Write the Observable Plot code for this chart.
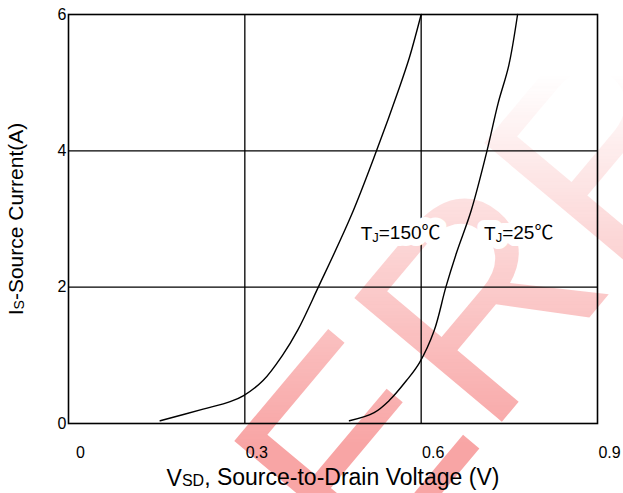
<!DOCTYPE html>
<html>
<head>
<meta charset="utf-8">
<script src="https://cdn.jsdelivr.net/npm/d3@7"></script>
<script src="https://cdn.jsdelivr.net/npm/@observablehq/plot@0.6"></script>
<style>
  html, body { margin: 0; padding: 0; background: white; }
  #wrap { position: relative; width: 623px; height: 493px; overflow: hidden; }
  #wmbox { position: absolute; left: 0; top: 0; width: 623px; height: 493px; overflow: hidden; z-index: 0;
           -webkit-mask-image: linear-gradient(to bottom, rgba(0,0,0,0) 15%, rgba(0,0,0,1) 90%);
           mask-image: linear-gradient(to bottom, rgba(0,0,0,0) 15%, rgba(0,0,0,1) 90%); }
  #wm { position: absolute; left: 400px; top: 330px; font-family: "Liberation Sans", Arial, sans-serif;
        font-size: 280px; line-height: 1; color: rgba(238, 30, 30, 0.4); white-space: nowrap;
        transform-origin: 0 100%; transform: rotate(-50deg); }
  #chart { position: absolute; left: 0; top: 0; z-index: 1; }
</style>
</head>
<body>
<div id="wrap"><div id="wmbox"><div id="wm">ERR</div></div><div id="chart"></div></div>
<script>
// Tj = 150 °C curve
const v150 = [0.156, 0.229, 0.275, 0.298, 0.331, 0.364, 0.390, 0.425, 0.481, 0.524, 0.563, 0.580, 0.592, 0.600];
const i150 = [0.04, 0.21, 0.32, 0.41, 0.63, 1.00, 1.37, 2.00, 3.05, 4.00, 4.93, 5.37, 5.74, 6.00];
// Tj = 25 °C curve
const v25 = [0.478, 0.520, 0.546, 0.575, 0.597, 0.622, 0.642, 0.660, 0.685, 0.712, 0.731, 0.749, 0.764];
const i25 = [0.04, 0.16, 0.34, 0.63, 0.89, 1.36, 2.00, 2.50, 3.12, 4.00, 4.70, 5.25, 6.00];

const xTicks = [0, 0.3, 0.6, 0.9];
const yTicks = [0, 2, 4, 6];
const xGrid = [0.3, 0.6];
const yGrid = [2, 4];

const labelText = ["TJ=150℃", "TJ=25℃"];
const labelV = [0.565, 0.766];
const labelI = [2.78, 2.78];

const s150 = v150.map((v, k) => ({v, i: i150[k]}));
const s25 = v25.map((v, k) => ({v, i: i25[k]}));
const labels = labelText.map((t, k) => ({t, v: labelV[k], i: labelI[k]}));

const chart = Plot.plot({
  width: 623,
  height: 493,
  marginLeft: 68,
  marginRight: 26,
  marginTop: 14,
  marginBottom: 70,
  style: {background: "transparent", fontFamily: "'Liberation Sans', Arial, 'Noto Sans CJK SC', sans-serif", color: "black"},
  x: {domain: [0, 0.9]},
  y: {domain: [0, 6]},
  marks: [
    Plot.ruleX(xGrid, {stroke: "black", strokeWidth: 1.3}),
    Plot.ruleY(yGrid, {stroke: "black", strokeWidth: 1.3}),
    Plot.line(s150, {x: "v", y: "i", stroke: "black", strokeWidth: 1.4, curve: "catmull-rom"}),
    Plot.line(s25, {x: "v", y: "i", stroke: "black", strokeWidth: 1.4, curve: "catmull-rom"}),
    // white backing behind the labels
    Plot.text(labels, {x: "v", y: "i", text: "t", fontSize: 19, fill: "white", stroke: "white", strokeWidth: 14, className: "tlabel"}),
    Plot.text(labels, {x: "v", y: "i", text: "t", fontSize: 19, fill: "black", className: "tlabel"}),
    Plot.frame({stroke: "black", strokeWidth: 1.6}),
    Plot.axisX({ticks: xTicks, tickSize: 0, tickPadding: 23, dx: 12, fontSize: 16, tickFormat: d => String(d),
      label: "VSD, Source-to-Drain Voltage (V)", labelAnchor: "center", labelArrow: "none", labelOffset: 62, className: "xax"}),
    Plot.axisY({ticks: yTicks, tickSize: 0, tickPadding: 2, fontSize: 16, tickFormat: d => String(d),
      label: "Is-Source Current(A)", labelAnchor: "center", labelArrow: "none", labelOffset: 60, className: "yax"})
  ]
});
document.getElementById("chart").appendChild(chart);

// subscripts
function sub(textEl, main, subs, rest, size, dy) {
  const t = d3.select(textEl);
  t.text(null);
  t.append("tspan").text(main);
  t.append("tspan").attr("font-size", size).attr("dy", dy).text(subs);
  t.append("tspan").attr("dy", "-" + dy).text(rest);
}
d3.select(chart).selectAll("text").each(function() {
  const s = this.textContent;
  if (s === "VSD, Source-to-Drain Voltage (V)") { this.setAttribute("font-size", 23); sub(this, "V", "SD", ", Source-to-Drain Voltage (V)", "16px", "0.03em"); }
  else if (s === "Is-Source Current(A)") { this.setAttribute("font-size", 21); sub(this, "I", "S", "-Source Current(A)", "14px", "0.03em"); }
});
d3.select(chart).selectAll(".tlabel text").each(function() {
  const s = this.textContent;
  const m = s.match(/^TJ(=.*)$/);
  if (m) sub(this, "T", "J", m[1], "13px", "0.12em");
});
</script>
</body>
</html>
